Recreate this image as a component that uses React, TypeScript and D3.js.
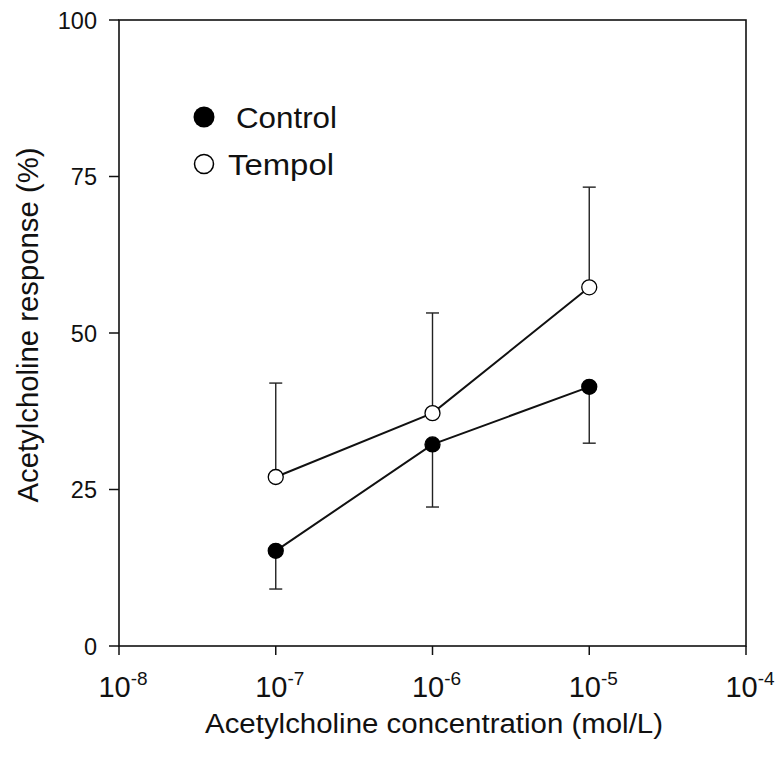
import React from "react";
import * as d3 from "d3";

const concentrations = [1e-7, 1e-6, 1e-5];
const controlMean = [15.2, 32.2, 41.4];
const controlSem = [6.1, 10.0, 9.0];
const tempolMean = [27.0, 37.2, 57.3];
const tempolSem = [15.0, 16.0, 16.0];
const yTicks = [0, 25, 50, 75, 100];
const xTickExps = [-8, -7, -6, -5, -4];

const FONT = "Liberation Sans, Arial, Helvetica, sans-serif";

export default function App() {
  const W = 780, H = 778;
  const left = 119, right = 746, top = 20, bottom = 646;
  const x = d3.scaleLog().domain([1e-8, 1e-4]).range([left, right]);
  const y = d3.scaleLinear().domain([0, 100]).range([bottom, top]);
  const line = d3.line<[number, number]>().x(d => x(d[0])).y(d => y(d[1]));
  const ctrlPts = concentrations.map((c, i) => [c, controlMean[i]] as [number, number]);
  const tempPts = concentrations.map((c, i) => [c, tempolMean[i]] as [number, number]);
  const r = 7.5;
  const cap = 6.5;

  return (
    <svg width={W} height={H} style={{ position: "absolute", left: 0, top: 0 }}>
      <rect x={0} y={0} width={W} height={H} fill="#fff" />
      {/* frame */}
      <rect x={left} y={top} width={right - left} height={bottom - top} fill="none" stroke="#111" strokeWidth={1.6} />
      {/* y ticks */}
      {yTicks.map(t => (
        <g key={"y" + t}>
          <line x1={left - 10} x2={left} y1={y(t)} y2={y(t)} stroke="#111" strokeWidth={1.5} />
          <text x={left - 22} y={y(t) + 8.5} textAnchor="end" fontFamily={FONT} fontSize={23.5} fill="#111">{t}</text>
        </g>
      ))}
      {/* x ticks */}
      {xTickExps.map(e => (
        <g key={"x" + e}>
          <line x1={x(Math.pow(10, e))} x2={x(Math.pow(10, e))} y1={bottom} y2={bottom + 9} stroke="#111" strokeWidth={1.5} />
          <text x={x(Math.pow(10, e)) + 4} y={697} textAnchor="middle" fontFamily={FONT} fontSize={29} fill="#111">
            10<tspan dy={-12} fontSize={19}>{e}</tspan>
          </text>
        </g>
      ))}
      {/* axis titles */}
      <text x={434} y={733} textAnchor="middle" fontFamily={FONT} fontSize={27} textLength={458} lengthAdjust="spacingAndGlyphs" fill="#111">Acetylcholine concentration (mol/L)</text>
      <text transform={`translate(38,325) rotate(-90)`} textAnchor="middle" fontFamily={FONT} fontSize={30} textLength={355} lengthAdjust="spacingAndGlyphs" fill="#111">Acetylcholine response (%)</text>
      {/* error bars: control downward */}
      {concentrations.map((c, i) => (
        <g key={"ce" + i}>
          <line x1={x(c)} x2={x(c)} y1={y(controlMean[i])} y2={y(controlMean[i] - controlSem[i])} stroke="#222" strokeWidth={1.4} />
          <line x1={x(c) - cap} x2={x(c) + cap} y1={y(controlMean[i] - controlSem[i])} y2={y(controlMean[i] - controlSem[i])} stroke="#222" strokeWidth={1.4} />
        </g>
      ))}
      {concentrations.map((c, i) => (
        <g key={"te" + i}>
          <line x1={x(c)} x2={x(c)} y1={y(tempolMean[i])} y2={y(tempolMean[i] + tempolSem[i])} stroke="#222" strokeWidth={1.4} />
          <line x1={x(c) - cap} x2={x(c) + cap} y1={y(tempolMean[i] + tempolSem[i])} y2={y(tempolMean[i] + tempolSem[i])} stroke="#222" strokeWidth={1.4} />
        </g>
      ))}
      {/* lines */}
      <path d={line(ctrlPts) || ""} fill="none" stroke="#111" strokeWidth={2} />
      <path d={line(tempPts) || ""} fill="none" stroke="#111" strokeWidth={2} />
      {/* markers */}
      {ctrlPts.map((p, i) => (
        <circle key={"cm" + i} cx={x(p[0])} cy={y(p[1])} r={r} fill="#000" stroke="#000" strokeWidth={1.3} />
      ))}
      {tempPts.map((p, i) => (
        <circle key={"tm" + i} cx={x(p[0])} cy={y(p[1])} r={r} fill="#fff" stroke="#000" strokeWidth={1.3} />
      ))}
      {/* legend */}
      <circle cx={204} cy={117} r={10.5} fill="#000" />
      <text x={236} y={128} fontFamily={FONT} fontSize={29} textLength={101} lengthAdjust="spacingAndGlyphs" fill="#111">Control</text>
      <circle cx={204} cy={164} r={9.5} fill="#fff" stroke="#000" strokeWidth={1.5} />
      <text x={228} y={175} fontFamily={FONT} fontSize={29} textLength={106} lengthAdjust="spacingAndGlyphs" fill="#111">Tempol</text>
    </svg>
  );
}
